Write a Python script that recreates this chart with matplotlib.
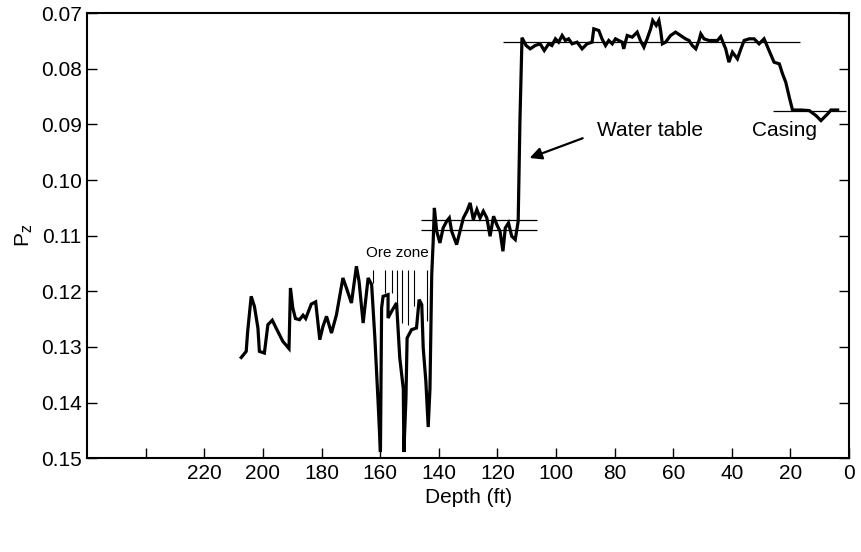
import matplotlib
matplotlib.use("Agg")
import matplotlib.pyplot as plt

plt.rcParams['font.family'] = ['Liberation Sans', 'DejaVu Sans']

# Pz log (depth in ft, Pz)
depth = [207.4, 205.7, 205.2, 204.0, 202.9, 201.7, 201.2, 199.5, 198.3, 196.8,
         195.5, 193.2, 191.1, 190.6, 189.8, 188.9, 187.5, 186.3, 185.4, 183.5,
         182.0, 180.6, 179.5, 178.3, 176.6, 174.9, 172.7, 171.5, 169.8, 168.1,
         167.2, 165.8, 164.1, 162.9, 161.8, 160.7, 159.9, 159.5, 159.0, 157.3,
         157.3, 156.1, 154.4, 153.9, 153.3, 152.1, 151.9, 151.2, 150.8, 149.3,
         147.6, 146.7, 145.8, 145.3, 144.4, 143.6, 143.0, 142.4, 141.9, 141.5,
         140.7, 139.6, 138.5, 137.3, 136.4, 135.6, 133.9, 131.6, 130.4, 129.3,
         128.2, 127.0, 125.9, 124.8, 123.6, 122.5, 121.3, 120.2, 119.1, 118.1,
         117.3, 116.2, 115.1, 113.9, 112.9, 112.3, 111.6, 110.2, 108.8, 107.1,
         105.4, 104.0, 102.5, 101.4, 100.2, 99.1, 97.9, 96.8, 95.7, 94.5,
         92.8, 91.1, 89.4, 87.7, 87.1, 85.4, 84.3, 83.1, 82.0, 80.8,
         79.7, 78.6, 77.4, 76.9, 75.7, 74.0, 72.3, 71.2, 70.0, 68.9,
         67.7, 67.0, 65.8, 64.9, 64.3, 63.7, 62.6, 60.9, 59.2, 57.5,
         55.8, 54.6, 53.5, 52.3, 51.2, 50.6, 49.5, 47.8, 44.9, 43.8,
         42.1, 41.0, 39.8, 38.1, 36.9, 35.8, 34.1, 32.4, 30.7, 29.0,
         27.3, 25.6, 23.8, 22.7, 21.6, 20.4, 19.3, 16.4, 13.6, 11.3,
         9.6, 7.3, 6.2, 3.9]
pz = [0.1319, 0.1308, 0.1272, 0.1209, 0.1227, 0.1266, 0.1308, 0.1311, 0.1260, 0.1252,
      0.1266, 0.1290, 0.1303, 0.1194, 0.1230, 0.1249, 0.1251, 0.1243, 0.1249, 0.1223,
      0.1219, 0.1287, 0.1263, 0.1245, 0.1275, 0.1242, 0.1176, 0.1194, 0.1221, 0.1155,
      0.1182, 0.1257, 0.1176, 0.1188, 0.1284, 0.1399, 0.1489, 0.1230, 0.1209, 0.1206,
      0.1248, 0.1236, 0.1221, 0.1266, 0.1320, 0.1375, 0.1489, 0.1393, 0.1284, 0.1269,
      0.1266, 0.1215, 0.1224, 0.1302, 0.1362, 0.1444, 0.1375, 0.1170, 0.1110, 0.1050,
      0.1092, 0.1113, 0.1086, 0.1074, 0.1068, 0.1092, 0.1116, 0.1068, 0.1056, 0.1041,
      0.1071, 0.1053, 0.1068, 0.1056, 0.1068, 0.1101, 0.1065, 0.1080, 0.1092, 0.1128,
      0.1086, 0.1077, 0.1101, 0.1107, 0.1074, 0.0893, 0.0744, 0.0758, 0.0764, 0.0758,
      0.0755, 0.0767, 0.0755, 0.0758, 0.0746, 0.0752, 0.0740, 0.0749, 0.0746, 0.0755,
      0.0752, 0.0764, 0.0755, 0.0752, 0.0728, 0.0731, 0.0746, 0.0758, 0.0749, 0.0755,
      0.0746, 0.0749, 0.0752, 0.0764, 0.0740, 0.0743, 0.0734, 0.0749, 0.0761, 0.0746,
      0.0728, 0.0713, 0.0722, 0.0713, 0.0731, 0.0755, 0.0752, 0.0740, 0.0734, 0.0740,
      0.0746, 0.0749, 0.0758, 0.0764, 0.0749, 0.0737, 0.0746, 0.0749, 0.0749, 0.0742,
      0.0764, 0.0788, 0.0770, 0.0782, 0.0764, 0.0749, 0.0746, 0.0746, 0.0755, 0.0746,
      0.0767, 0.0788, 0.0791, 0.0809, 0.0824, 0.0851, 0.0874, 0.0874, 0.0875, 0.0884,
      0.0893, 0.0881, 0.0874, 0.0874]

# horizontal reference levels and their depth extents
ref_levels = [0.0752, 0.0875, 0.1072, 0.1090]
ref_from = [118.0, 26.1, 146.2, 146.2]
ref_to = [16.8, 1.0, 106.5, 106.5]

# ore zone markers
ore_depth = [162.4, 158.4, 156.1, 154.4, 152.7, 150.4, 148.4, 144.1]
ore_top = 0.1161
ore_bottom = [0.1185, 0.1203, 0.1203, 0.1254, 0.1257, 0.1260, 0.1227, 0.1254]

xticks = [240, 220, 200, 180, 160, 140, 120, 100, 80, 60, 40, 20, 0]
xtick_labels = ['', '220', '200', '180', '160', '140', '120', '100', '80', '60', '40', '20', '0']
yticks = [0.07, 0.08, 0.09, 0.10, 0.11, 0.12, 0.13, 0.14, 0.15]

fig = plt.figure(figsize=(8.62, 5.52), dpi=100)
ax = fig.add_axes([0.101, 0.170, 0.884, 0.806])

ax.plot(depth, pz, color='black', lw=2.3, solid_joinstyle='miter')
ax.hlines(ref_levels, ref_from, ref_to, color='black', lw=0.9)
ax.vlines(ore_depth, ore_top, ore_bottom, color='black', lw=0.8)

ax.text(154.1, 0.1131, 'Ore zone', fontsize=11, ha='center', va='center')
ax.text(85.9, 0.0911, 'Water table', fontsize=15, ha='left', va='center')
ax.text(21.9, 0.0911, 'Casing', fontsize=15, ha='center', va='center')
ax.annotate('', xy=(109.9, 0.0962), xytext=(90.0, 0.0923),
            arrowprops=dict(arrowstyle='-|>', color='black', lw=1.6, mutation_scale=18))

ax.set_xlim(260, 0)
ax.set_ylim(0.15, 0.07)
ax.set_xticks(xticks)
ax.set_xticklabels(xtick_labels)
ax.set_yticks(yticks)
ax.set_yticklabels([f"{v:.2f}" for v in yticks])
ax.tick_params(direction='in', length=7, width=1, labelsize=15, right=True, pad=4)
ax.tick_params(axis='y', labelright=False)

for s in ax.spines.values():
    s.set_linewidth(1.5)

ax.set_xlabel('Depth (ft)', fontsize=15, labelpad=4)
ax.set_ylabel(r'P$_{\mathrm{z}}$', fontsize=15, labelpad=4)

fig.savefig('out.png', dpi=100)
